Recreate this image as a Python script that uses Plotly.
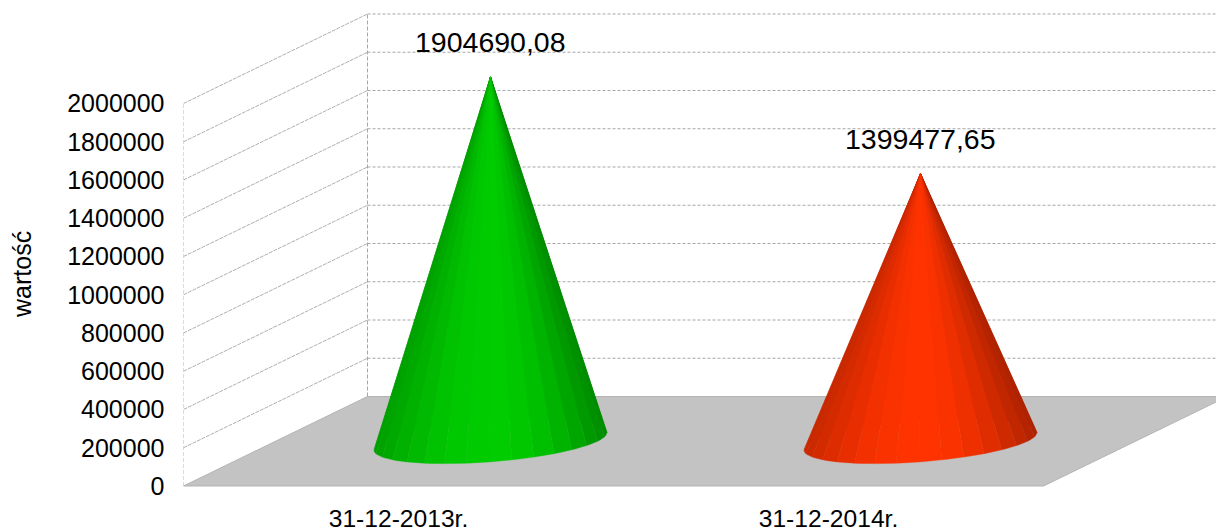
import math
import plotly.graph_objects as go

categories = ["31-12-2013r.", "31-12-2014r."]
values = [1904690.08, 1399477.65]
value_labels = ["1904690,08", "1399477,65"]
y_ticks = [0, 200000, 400000, 600000, 800000, 1000000, 1200000, 1400000, 1600000, 1800000, 2000000]
axis_title = "wartość"
base_colors = [(0, 204, 0), (255, 51, 0)]

FONT = "Liberation Sans"
GRID = "#a6a6a6"
FLOOR = "#c3c3c3"
# oblique projection of the depth axis, in axis units
DEPTH_X = 0.4279
DEPTH_Y = 468000
X_MIN, X_MAX = 0.5, 2.9012
Y_MIN, Y_MAX = -230065, 2541176
RADIUS_X = 0.249
RADIUS_DEPTH = 0.25
FACETS = 32

fig = go.Figure()


def line(xs, ys, width=1, dash="3px,2px", color=GRID):
    fig.add_trace(go.Scatter(x=xs, y=ys, mode="lines", hoverinfo="skip", showlegend=False,
                             line=dict(color=color, width=width, dash=dash)))


# floor
fig.add_trace(go.Scatter(
    x=[X_MIN, 2.5, 2.5 + DEPTH_X, X_MIN + DEPTH_X, X_MIN],
    y=[0, 0, DEPTH_Y, DEPTH_Y, 0],
    mode="lines", fill="toself", fillcolor=FLOOR, hoverinfo="skip", showlegend=False,
    line=dict(color="#b3b3b3", width=1)))

# walls
top = y_ticks[-1]
for t in y_ticks[1:]:
    line([X_MIN + DEPTH_X, 2.5 + DEPTH_X], [t + DEPTH_Y, t + DEPTH_Y])
    line([X_MIN, X_MIN + DEPTH_X], [t, t + DEPTH_Y], width=0.9, dash="4px,1px")
line([X_MIN, X_MIN], [0, top], width=0.8, dash="4px,2px")
line([X_MIN + DEPTH_X, X_MIN + DEPTH_X], [DEPTH_Y, top + DEPTH_Y], width=1, dash="4px,2px")


def shade(u):
    loss = 0.32 * u ** 2 if u > 0 else 0.22 * u ** 2
    return 1 - loss


# cones
for i, (val, rgb) in enumerate(zip(values, base_colors)):
    cx = i + 1 + DEPTH_X / 2
    cy = DEPTH_Y / 2
    apex = (cx, cy + val)
    half_width = math.hypot(RADIUS_X, RADIUS_DEPTH * DEPTH_X)
    facets = []
    for k in range(FACETS):
        a0 = 2 * math.pi * k / FACETS
        a1 = 2 * math.pi * (k + 1) / FACETS
        mid = (a0 + a1) / 2
        # finer rim than shading bands so the base edge stays smooth
        arc = [a0 + (a1 - a0) * j / 4 for j in range(5)]
        pts = [(cx + RADIUS_X * math.cos(a) + RADIUS_DEPTH * DEPTH_X * math.sin(a),
                cy + RADIUS_DEPTH * DEPTH_Y * math.sin(a)) for a in arc]
        u = (RADIUS_X * math.cos(mid) + RADIUS_DEPTH * DEPTH_X * math.sin(mid)) / half_width
        facets.append((math.sin(mid), pts, u))
    facets.sort(key=lambda f: -f[0])
    for _, pts, u in facets:
        s = shade(max(-1, min(1, u)))
        col = "rgb({},{},{})".format(*(round(c * s) for c in rgb))
        fig.add_trace(go.Scatter(
            x=[apex[0]] + [p[0] for p in pts] + [apex[0]],
            y=[apex[1]] + [p[1] for p in pts] + [apex[1]],
            mode="lines", fill="toself", fillcolor=col, hoverinfo="skip", showlegend=False,
            line=dict(color=col, width=0.4)))
    fig.add_annotation(x=apex[0], y=apex[1], xref="x", yref="y", text=value_labels[i],
                       showarrow=False, yshift=35, font=dict(family=FONT, size=28.5, color="#000000"))

fig.add_annotation(x=22 / 1216, y=1 - 275 / 530, xref="paper", yref="paper", text=axis_title,
                   xanchor="center", yanchor="middle",
                   textangle=-90, showarrow=False, font=dict(family=FONT, size=25, color="#000000"))

fig.update_layout(
    width=1216, height=530, autosize=False,
    margin=dict(l=0, r=0, t=0, b=0, pad=0),
    paper_bgcolor="#ffffff", plot_bgcolor="#ffffff",
    showlegend=False,
    font=dict(family=FONT, color="#000000"),
    xaxis=dict(domain=[183.5 / 1216, 1], range=[X_MIN, X_MAX], automargin=False,
               anchor="free", position=44 / 530,
               tickmode="array", tickvals=[1, 2], ticktext=categories,
               ticks="", showline=False, showgrid=False, zeroline=False,
               ticklabelstandoff=15, tickfont=dict(family=FONT, size=24.6)),
    yaxis=dict(domain=[0, 1], range=[Y_MIN, Y_MAX], automargin=False,
               tickmode="array", tickvals=y_ticks, ticktext=[str(t) for t in y_ticks],
               ticks="", showline=False, showgrid=False, zeroline=False,
               ticklabelstandoff=18, tickfont=dict(family=FONT, size=25)),
)

fig.write_html("out.html", config={"displayModeBar": False},
               post_script="document.body.style.margin='0';")
